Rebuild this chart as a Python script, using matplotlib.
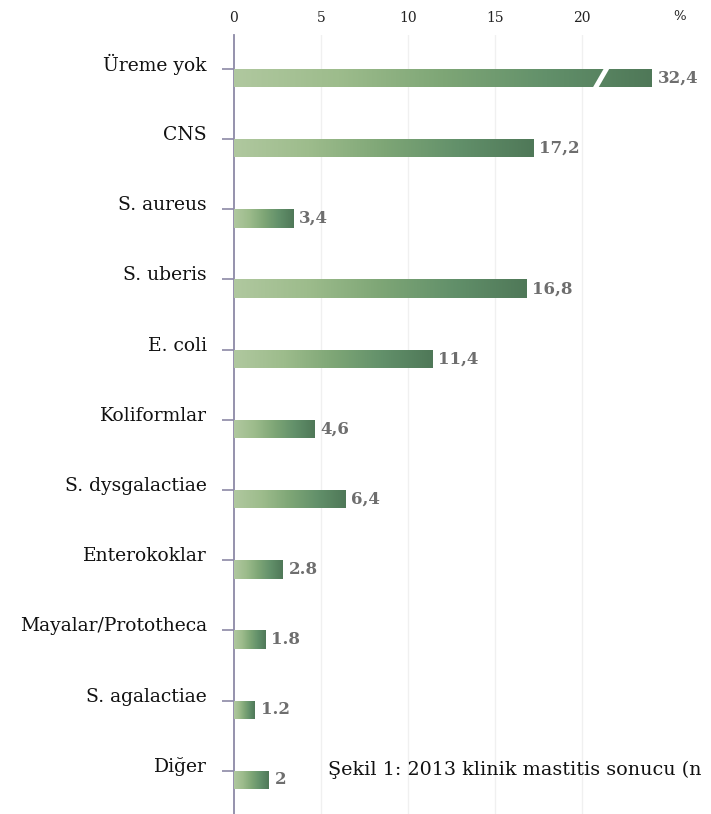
import numpy as np
import matplotlib
matplotlib.use("Agg")
import matplotlib.pyplot as plt
from matplotlib.colors import LinearSegmentedColormap
from matplotlib import transforms

categories = ["Üreme yok", "CNS", "S. aureus", "S. uberis", "E. coli", "Koliformlar",
              "S. dysgalactiae", "Enterokoklar", "Mayalar/Prototheca", "S. agalactiae", "Diğer"]
values = [32.4, 17.2, 3.4, 16.8, 11.4, 4.6, 6.4, 2.8, 1.8, 1.2, 2.0]
value_labels = ["32,4", "17,2", "3,4", "16,8", "11,4", "4,6", "6,4", "2.8", "1.8", "1.2", "2"]
xticks = [0, 5, 10, 15, 20]
display_cap = 24.0  # broken bar for the largest value

serif = ["DejaVu Serif"]

fig = plt.figure(figsize=(7.11, 8.14), dpi=100)
ax = fig.add_axes([234/711, 0.0, (26*17.4)/711, 1 - 35/814])
ax.set_xlim(0, 26)
n = len(categories)
ytop = -43/70.2
ax.set_ylim(n - 1 + 34/70.2, ytop)

cmap = LinearSegmentedColormap.from_list("g", ["#b0c89f", "#9dbc8c", "#7ea676", "#62906a", "#4f7858"])
grad = np.linspace(0, 1, 256).reshape(1, -1)

bh = 0.26
for i, v in enumerate(values):
    w = min(v, display_cap)
    bars = ax.barh(i, w, height=bh, color="#7fa57b", edgecolor="none", zorder=2)
    patch = bars[0]
    im = ax.imshow(grad, cmap=cmap, aspect="auto", extent=(0, w, i + bh/2, i - bh/2),
                   zorder=3, interpolation="bicubic")
    im.set_clip_path(patch)
    ax.text(w + 0.35, i, value_labels[i], ha="left", va="center", fontsize=12,
            fontweight="bold", color="#6e6e6e", family=serif, zorder=4)

# break marker on the largest bar
ax.plot([20.75, 21.45], [0 + bh/2 + 0.02, 0 - bh/2 - 0.02], color="white", lw=3.5,
        zorder=5, solid_capstyle="butt")

ax.set_xticks(xticks)
ax.xaxis.tick_top()
ax.tick_params(axis="x", length=0, pad=7, labelsize=10, labelcolor="#222222")
for lab in ax.get_xticklabels():
    lab.set_family(serif)
tick_off = transforms.ScaledTranslation(0, 18/100, fig.dpi_scale_trans)
ax.text(25.6, ytop, "%", transform=ax.transData + tick_off, ha="center", va="center",
        fontsize=9.5, color="#222222", family=serif)
for xt in xticks[1:]:
    ax.axvline(xt, color="#f0f0f0", lw=1, zorder=0)

ax.set_yticks([i - bh/2 for i in range(n)])
ax.set_yticklabels([""] * n)
ax.tick_params(axis="y", length=9, width=1.2, color="#8c89a6", direction="out")
for s in ["top", "right", "bottom"]:
    ax.spines[s].set_visible(False)
ax.spines["left"].set_color("#8c89a6")
ax.spines["left"].set_linewidth(1.3)

off = transforms.ScaledTranslation(-27/100, 4/100, fig.dpi_scale_trans)
trans = transforms.blended_transform_factory(ax.transAxes, ax.transData) + off
for i, c in enumerate(categories):
    ax.text(0, i - bh/2, c, transform=trans, ha="right", va="center", fontsize=13.5,
            color="#111111", family=serif)

fig.text(328/711, 1 - 770/814, "Şekil 1: 2013 klinik mastitis sonucu (n", ha="left",
         va="center", fontsize=13.8, color="#111111", family=serif)

fig.savefig("out.png", dpi=100)
